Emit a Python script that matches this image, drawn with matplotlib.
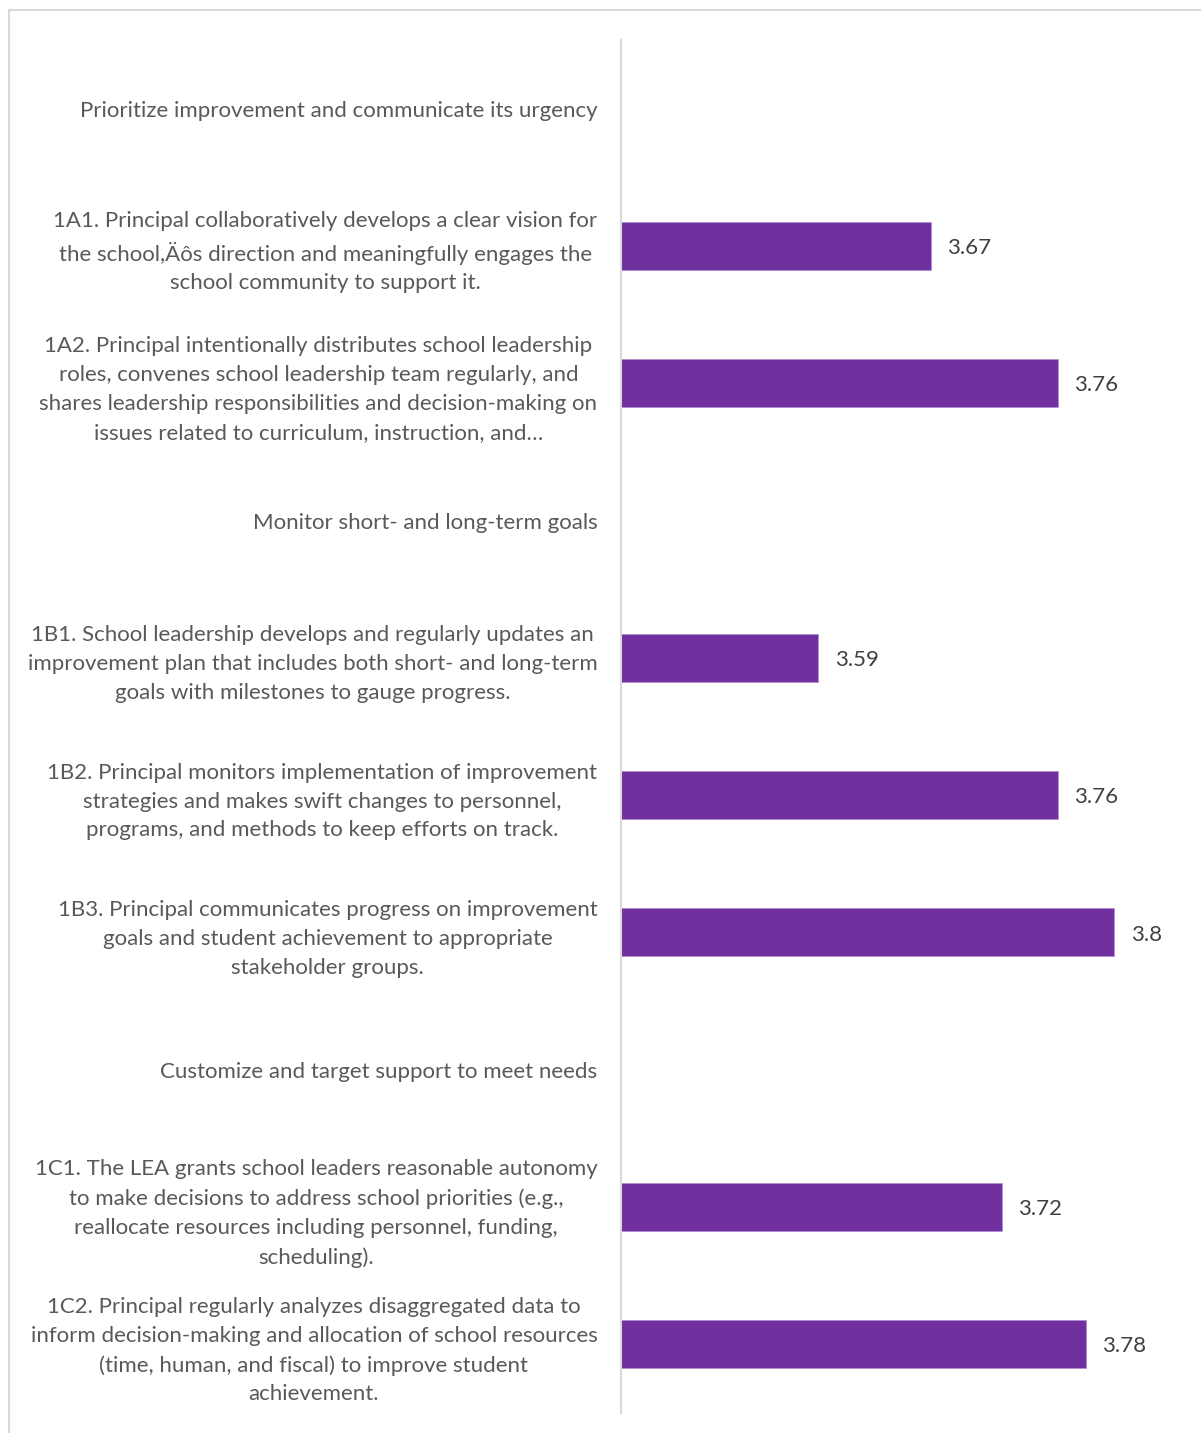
import matplotlib
matplotlib.use("Agg")
import matplotlib.pyplot as plt
import numpy as np
from matplotlib.patches import Rectangle

categories = [
    "Prioritize improvement and communicate its urgency",
    "1A1. Principal collaboratively develops a clear vision for\nthe school,Äôs direction and meaningfully engages the\nschool community to support it.",
    "1A2. Principal intentionally distributes school leadership\nroles, convenes school leadership team regularly, and\nshares leadership responsibilities and decision-making on\nissues related to curriculum, instruction, and…",
    "Monitor short- and long-term goals",
    "1B1. School leadership develops and regularly updates an\nimprovement plan that includes both short- and long-term\ngoals with milestones to gauge progress.",
    "1B2. Principal monitors implementation of improvement\nstrategies and makes swift changes to personnel,\nprograms, and methods to keep efforts on track.",
    "1B3. Principal communicates progress on improvement\ngoals and student achievement to appropriate\nstakeholder groups.",
    "Customize and target support to meet needs",
    "1C1. The LEA grants school leaders reasonable autonomy\nto make decisions to address school priorities (e.g.,\nreallocate resources including personnel, funding,\nscheduling).",
    "1C2. Principal regularly analyzes disaggregated data to\ninform decision-making and allocation of school resources\n(time, human, and fiscal) to improve student\nachievement.",
]
values = [None, 3.67, 3.76, None, 3.59, 3.76, 3.8, None, 3.72, 3.78]

plt.rcParams['font.family'] = ['Lato', 'DejaVu Sans']

fig = plt.figure(figsize=(12.01, 14.33), dpi=100)
W, H = 1201, 1433
ax = fig.add_axes([621 / W, (H - 1413) / H, (1185 - 621) / W, (1413 - 40) / H])

# border (left and top edges visible)
fig.patches.append(Rectangle((9 / W, -0.05), 1.0, (H - 10) / H + 0.05, transform=fig.transFigure,
                             fill=False, edgecolor='#D9D9D9', linewidth=1.5))

y = np.arange(len(categories))
xmin = 3.45
for i, v in enumerate(values):
    if v is None:
        continue
    ax.barh(y[i], v - xmin, left=xmin, height=0.35, color='#7030A0',
            edgecolor='#B28FD0', linewidth=0.6)
    ax.text(v + 0.0115, y[i] + 0.015, f"{v:g}", va='center', ha='left',
            fontsize=16, color='#404040')

ax.set_xlim(3.45, 3.85)
ax.set_ylim(len(categories) - 0.5, -0.5)
ax.set_yticks(y)
ax.set_yticklabels(categories, fontsize=16, color='#595959', multialignment='center',
                   linespacing=1.55)
ax.tick_params(axis='y', length=0, pad=17)
ax.set_xticks([])
for s in ['top', 'right', 'bottom']:
    ax.spines[s].set_visible(False)
ax.spines['left'].set_color('#D9D9D9')
ax.spines['left'].set_linewidth(1.5)

fig.savefig("out.png", dpi=100)
